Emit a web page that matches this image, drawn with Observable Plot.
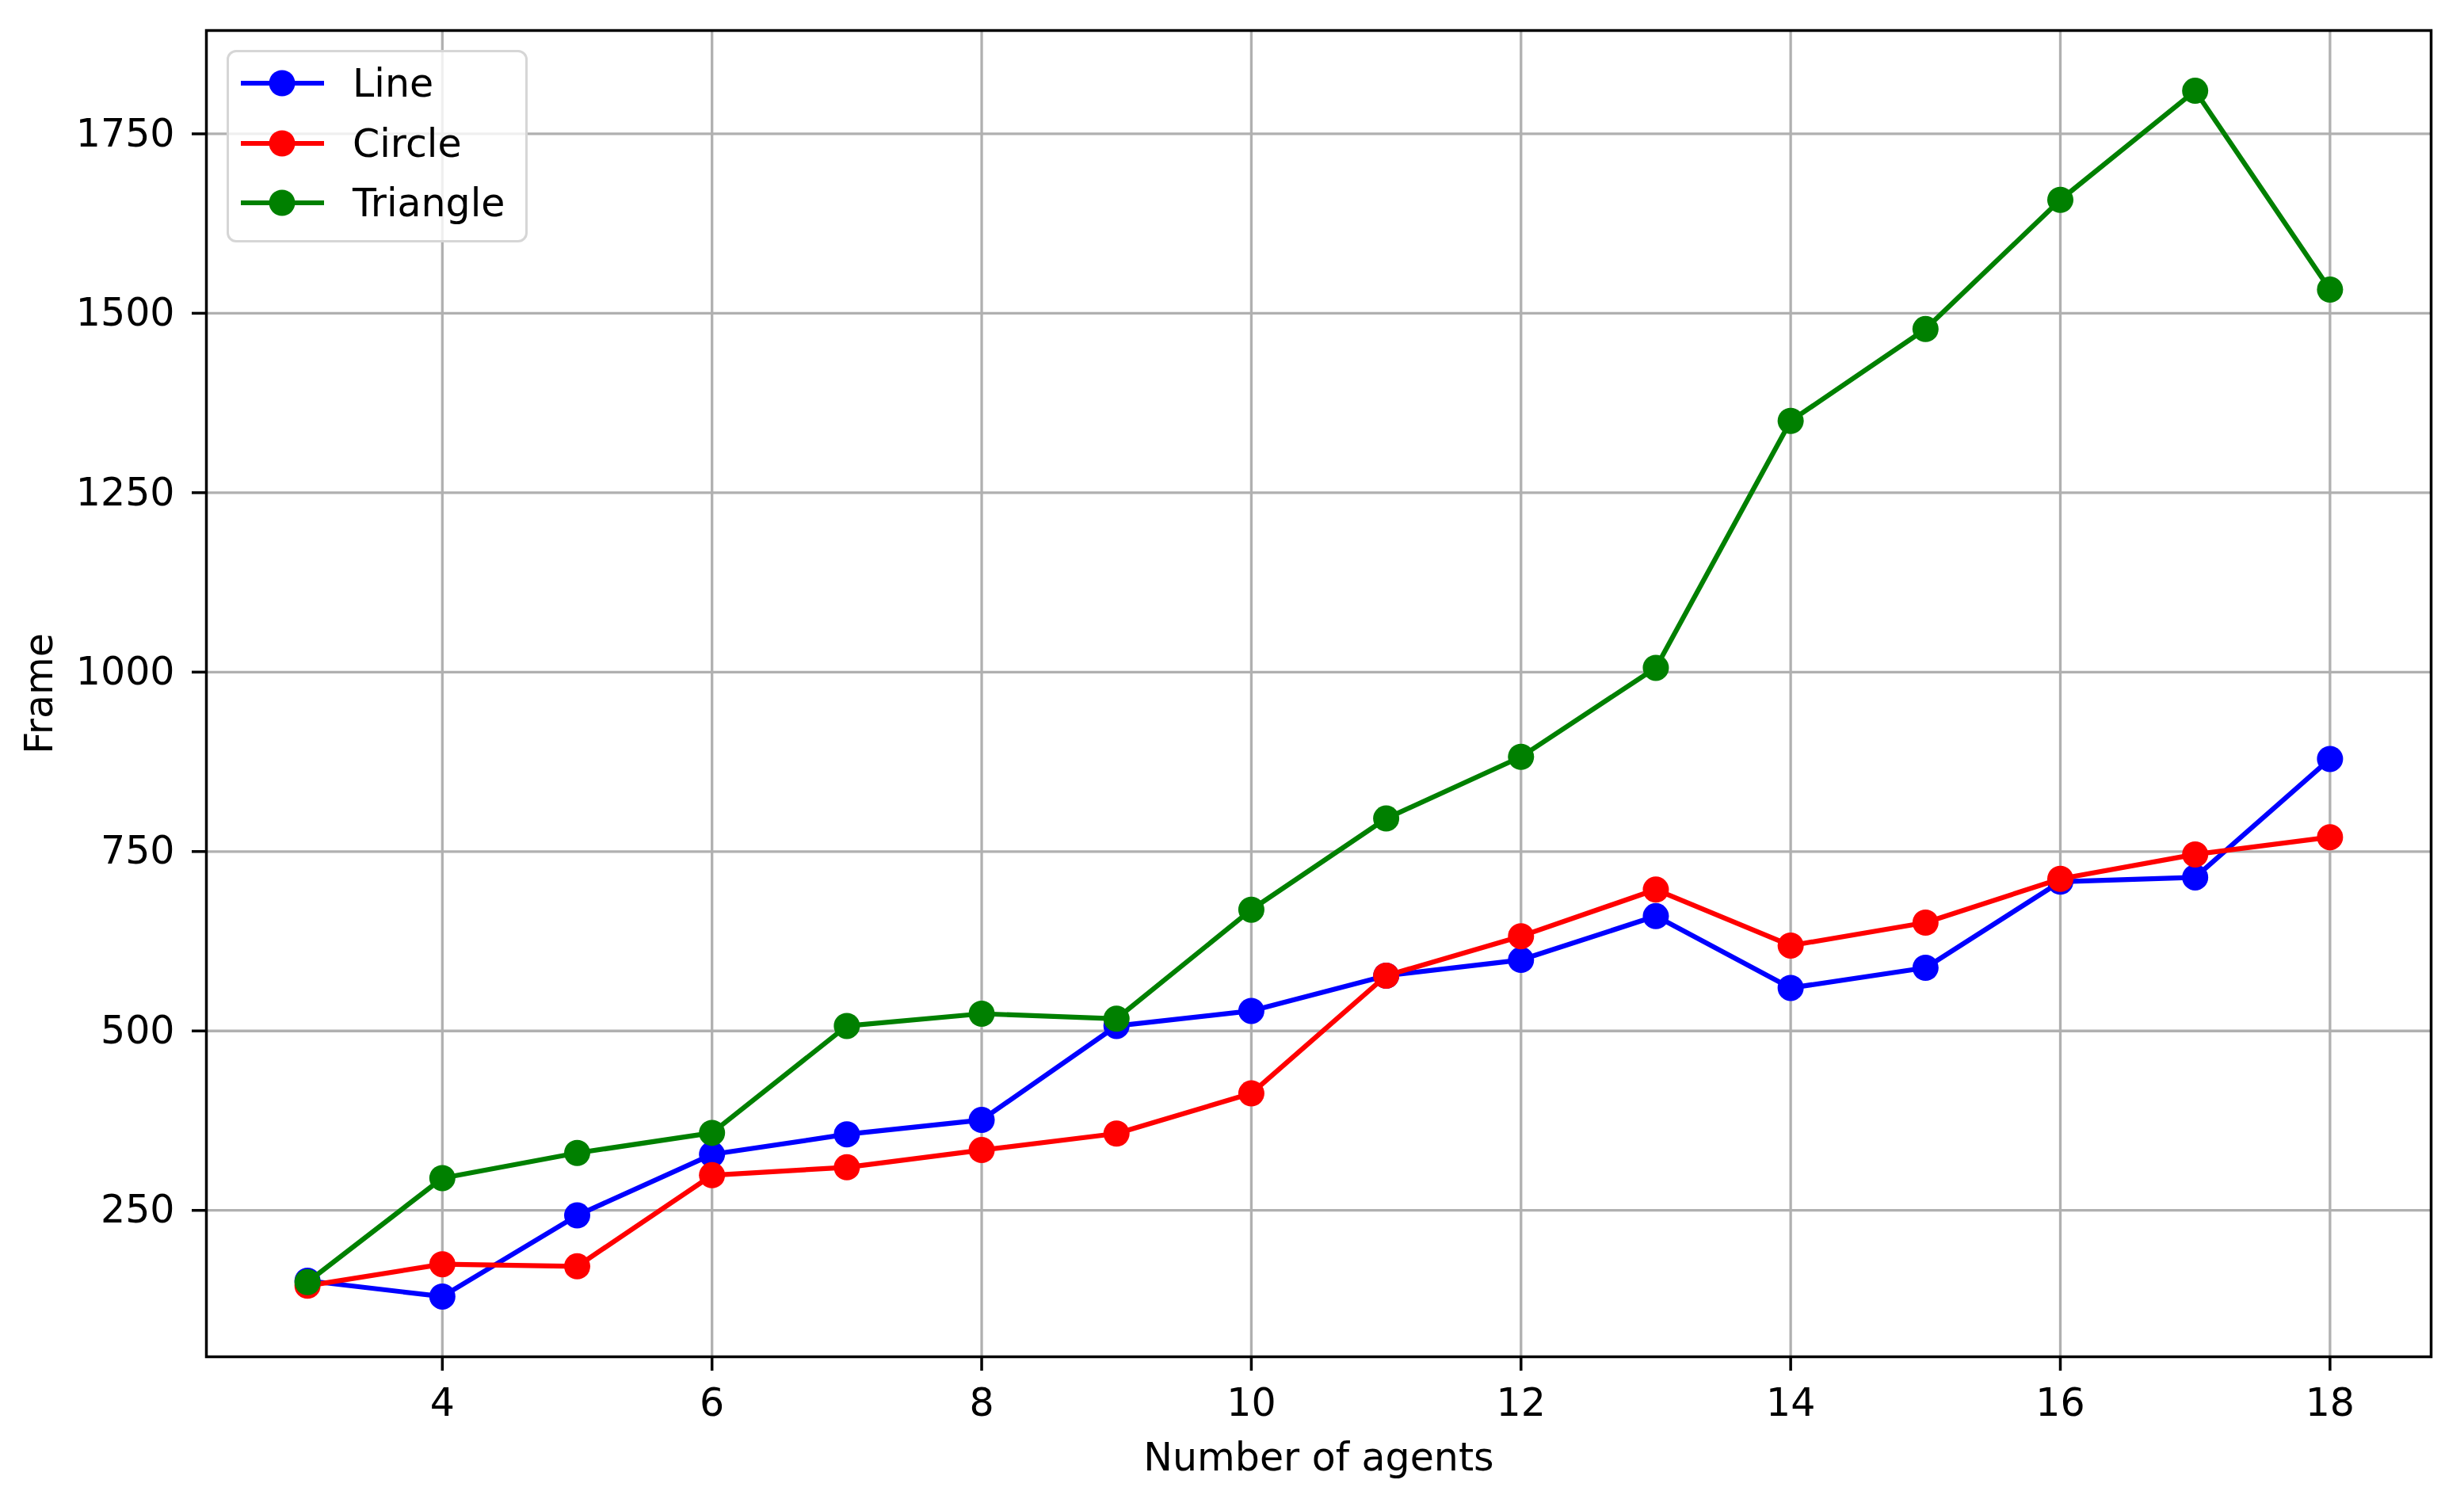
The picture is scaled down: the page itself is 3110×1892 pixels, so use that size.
<!DOCTYPE html>
<html>
<head>
<meta charset="utf-8">
<script src="https://cdn.jsdelivr.net/npm/d3@7"></script>
<script src="https://cdn.jsdelivr.net/npm/@observablehq/plot@0.6"></script>
<style>
  html, body { margin: 0; padding: 0; background: #fff; }
  #wrap { position: relative; width: 3110px; height: 1892px; font-family: "DejaVu Sans", sans-serif; }
  #legend {
    position: absolute; left: 286px; top: 63px; width: 374px; height: 237px;
    border: 3px solid #d6d6d6; border-radius: 12px; background: rgba(255,255,255,0.8);
  }
  .entry { position: absolute; left: 0; height: 60px; display: flex; align-items: center; }
  .entry span { font-size: 49px; color: #000; margin-left: 34px; line-height: 1; }
</style>
</head>
<body>
<div id="wrap"></div>
<script>
const agents = [3, 4, 5, 6, 7, 8, 9, 10, 11, 12, 13, 14, 15, 16, 17, 18];
const lineFrames = [152, 130, 243, 328, 356, 376, 507, 528, 577, 599, 660, 560, 588, 708, 714, 879];
const circleFrames = [145, 175, 172, 299, 310, 334, 357, 413, 577, 632, 697, 619, 651, 712, 746, 770];
const triangleFrames = [150, 295, 330, 358, 507, 524, 517, 669, 796, 882, 1006, 1350, 1478, 1658, 1810, 1533];
const seriesNames = ["Line", "Circle", "Triangle"];
const seriesColors = ["#0000ff", "#ff0000", "#008000"];
const xTicks = [4, 6, 8, 10, 12, 14, 16, 18];
const yTicks = [250, 500, 750, 1000, 1250, 1500, 1750];

const seriesValues = [lineFrames, circleFrames, triangleFrames];
const tables = seriesValues.map((vals, i) =>
  agents.map((a, j) => ({agents: a, frame: vals[j], series: seriesNames[i]}))
);

const font = "DejaVu Sans";
const fs = 49;
const marks = [
  Plot.gridX(xTicks, {stroke: "#b0b0b0", strokeOpacity: 1, strokeWidth: 3.3}),
  Plot.gridY(yTicks, {stroke: "#b0b0b0", strokeOpacity: 1, strokeWidth: 3.3}),
];
tables.forEach((t, i) => {
  marks.push(Plot.line(t, {x: "agents", y: "frame", stroke: seriesColors[i], strokeWidth: 6.2}));
  marks.push(Plot.dot(t, {x: "agents", y: "frame", fill: seriesColors[i], r: 16.5, stroke: "none"}));
});
marks.push(
  Plot.frame({stroke: "#000", strokeWidth: 3.5}),
  Plot.axisX({ticks: xTicks, tickSize: 18, tickPadding: 22, fontSize: fs, strokeWidth: 3.5, tickFormat: "d", label: null}),
  Plot.axisY({ticks: yTicks, tickSize: 18, tickPadding: 22, fontSize: fs, strokeWidth: 3.5, tickFormat: "d", label: null}),
  Plot.text(["Number of agents"], {frameAnchor: "bottom", dy: 128, lineAnchor: "middle", fontSize: fs, fill: "#000"}),
  Plot.text(["Frame"], {frameAnchor: "left", dx: -210, rotate: -90, lineAnchor: "middle", textAnchor: "middle", fontSize: fs, fill: "#000"})
);

const chart = Plot.plot({
  width: 3110,
  height: 1892,
  marginLeft: 260,
  marginRight: 42,
  marginTop: 38,
  marginBottom: 180,
  style: {fontFamily: font, background: "#fff", color: "#000"},
  x: {domain: [2.25, 18.75]},
  y: {domain: [46, 1894]},
  marks
});

const wrap = document.getElementById("wrap");
wrap.appendChild(chart);

// Legend
const legend = document.createElement("div");
legend.id = "legend";
const entryTops = [9, 85, 160];
seriesNames.forEach((name, i) => {
  const e = document.createElement("div");
  e.className = "entry";
  e.style.top = entryTops[i] + "px";
  e.style.left = "12px";
  e.innerHTML = `<svg width="110" height="60"><line x1="3" x2="108" y1="30" y2="30" stroke="${seriesColors[i]}" stroke-width="6.2"/><circle cx="55" cy="30" r="16.5" fill="${seriesColors[i]}"/></svg><span>${name}</span>`;
  legend.appendChild(e);
});
wrap.appendChild(legend);
</script>
</body>
</html>
